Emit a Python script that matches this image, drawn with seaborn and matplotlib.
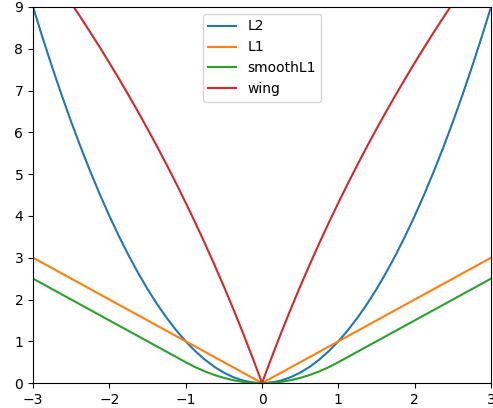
import numpy as np
import pandas as pd
import matplotlib
matplotlib.use("Agg")
import matplotlib.pyplot as plt
import seaborn as sns

# values (dense enough to keep the curves smooth)
x = [-3.0, -2.875, -2.75, -2.625, -2.5, -2.375, -2.25, -2.125, -2.0, -1.875, -1.75, -1.625,
     -1.5, -1.375, -1.25, -1.125, -1.0, -0.875, -0.75, -0.625, -0.5, -0.375, -0.25, -0.125,
     -0.05, 0.0, 0.05, 0.125, 0.25, 0.375, 0.5, 0.625, 0.75, 0.875, 1.0, 1.125, 1.25, 1.375,
     1.5, 1.625, 1.75, 1.875, 2.0, 2.125, 2.25, 2.375, 2.5, 2.625, 2.75, 2.875, 3.0]
l2 = [9.0, 8.266, 7.563, 6.891, 6.25, 5.641, 5.063, 4.516, 4.0, 3.516, 3.063, 2.641,
      2.25, 1.891, 1.563, 1.266, 1.0, 0.766, 0.563, 0.391, 0.25, 0.141, 0.063, 0.016,
      0.0025, 0.0, 0.0025, 0.016, 0.063, 0.141, 0.25, 0.391, 0.563, 0.766, 1.0, 1.266, 1.563, 1.891,
      2.25, 2.641, 3.063, 3.516, 4.0, 4.516, 5.063, 5.641, 6.25, 6.891, 7.563, 8.266, 9.0]
l1 = [3.0, 2.875, 2.75, 2.625, 2.5, 2.375, 2.25, 2.125, 2.0, 1.875, 1.75, 1.625,
      1.5, 1.375, 1.25, 1.125, 1.0, 0.875, 0.75, 0.625, 0.5, 0.375, 0.25, 0.125,
      0.05, 0.0, 0.05, 0.125, 0.25, 0.375, 0.5, 0.625, 0.75, 0.875, 1.0, 1.125, 1.25, 1.375,
      1.5, 1.625, 1.75, 1.875, 2.0, 2.125, 2.25, 2.375, 2.5, 2.625, 2.75, 2.875, 3.0]
smooth_l1 = [2.5, 2.375, 2.25, 2.125, 2.0, 1.875, 1.75, 1.625, 1.5, 1.375, 1.25, 1.125,
             1.0, 0.875, 0.75, 0.625, 0.5, 0.383, 0.281, 0.195, 0.125, 0.07, 0.031, 0.008,
             0.001, 0.0, 0.001, 0.008, 0.031, 0.07, 0.125, 0.195, 0.281, 0.383, 0.5, 0.625, 0.75, 0.875,
             1.0, 1.125, 1.25, 1.375, 1.5, 1.625, 1.75, 1.875, 2.0, 2.125, 2.25, 2.375, 2.5]
wing = [10.40, 10.08, 9.758, 9.429, 9.092, 8.747, 8.394, 8.033, 7.662, 7.283, 6.893, 6.493,
        6.082, 5.660, 5.225, 4.777, 4.315, 3.839, 3.347, 2.838, 2.312, 1.767, 1.20, 0.612,
        0.248, 0.0, 0.248, 0.612, 1.20, 1.767, 2.312, 2.838, 3.347, 3.839, 4.315, 4.777, 5.225, 5.660,
        6.082, 6.493, 6.893, 7.283, 7.662, 8.033, 8.394, 8.747, 9.092, 9.429, 9.758, 10.08, 10.40]

series = {"L2": l2, "L1": l1, "smoothL1": smooth_l1, "wing": wing}
df = pd.concat([pd.DataFrame({"x": x, "y": v, "loss": k}) for k, v in series.items()])

fig = plt.figure(figsize=(4.93, 4.08), dpi=100)
ax = fig.add_axes([0.067, 0.061, 0.929, 0.922])
sns.lineplot(data=df, x="x", y="y", hue="loss", palette="tab10", ax=ax, sort=False)
ax.set_xlim(-3, 3)
ax.set_ylim(0, 9)
ax.set_xlabel("")
ax.set_ylabel("")
ax.legend(loc="upper center")
fig.savefig("out.png", dpi=100)
